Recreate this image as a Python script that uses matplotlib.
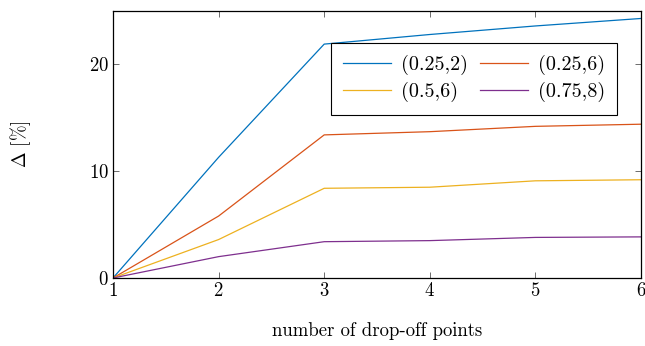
import matplotlib.pyplot as plt
import numpy as np

plt.rcParams['font.family'] = 'serif'
plt.rcParams['font.serif'] = ['cmr10']
plt.rcParams['mathtext.fontset'] = 'cm'
plt.rcParams['axes.formatter.use_mathtext'] = True

# data
drop_points = [1, 2, 3, 4, 5, 6]
labels = ["(0.25,2)", "(0.25,6)", "(0.5,6)", "(0.75,8)"]
delta_025_2 = [0, 11.3, 21.9, 22.8, 23.6, 24.3]
delta_025_6 = [0, 5.8, 13.4, 13.7, 14.2, 14.4]
delta_05_6 = [0, 3.6, 8.4, 8.5, 9.1, 9.2]
delta_075_8 = [0, 2.0, 3.4, 3.5, 3.8, 3.85]

colors = ["#0072BD", "#D95319", "#EDB120", "#7E2F8E"]
series = [delta_025_2, delta_025_6, delta_05_6, delta_075_8]

fs = 13.5
fig = plt.figure(figsize=(6.45, 3.46), dpi=100)
ax = fig.add_axes([113/645, 1 - 278/346, 528/645, 267/346])

lines = []
for vals, lab, c in zip(series, labels, colors):
    ln, = ax.plot(drop_points, vals, color=c, linewidth=0.9, label=lab)
    lines.append(ln)

ax.set_xlim(1, 6)
ax.set_ylim(0, 25)
ax.set_xticks(drop_points)
ax.set_yticks([0, 10, 20])
ax.tick_params(direction='in', top=True, right=True, labelsize=fs, length=4, width=0.6,
               color='#555555', pad=3)
for s in ax.spines.values():
    s.set_linewidth(0.9)

ax.set_xlabel('number of drop-off points', fontsize=fs, labelpad=16)
ax.set_ylabel(r'$\Delta$ [%]', fontsize=fs)
ax.yaxis.set_label_coords(-0.152, 0.5)

# row-wise legend order like pgfplots
order = [0, 2, 1, 3]
leg = ax.legend([lines[i] for i in order], [labels[i] for i in order], ncol=2,
                loc='upper right', bbox_to_anchor=(0.955, 0.88), borderaxespad=0,
                fontsize=14.5, fancybox=False, edgecolor='black', framealpha=1,
                handlelength=2.4, columnspacing=0.55, handletextpad=0.5,
                borderpad=0.6, labelspacing=0.35)
leg.get_frame().set_linewidth(0.8)

plt.savefig("out.png", dpi=100)
